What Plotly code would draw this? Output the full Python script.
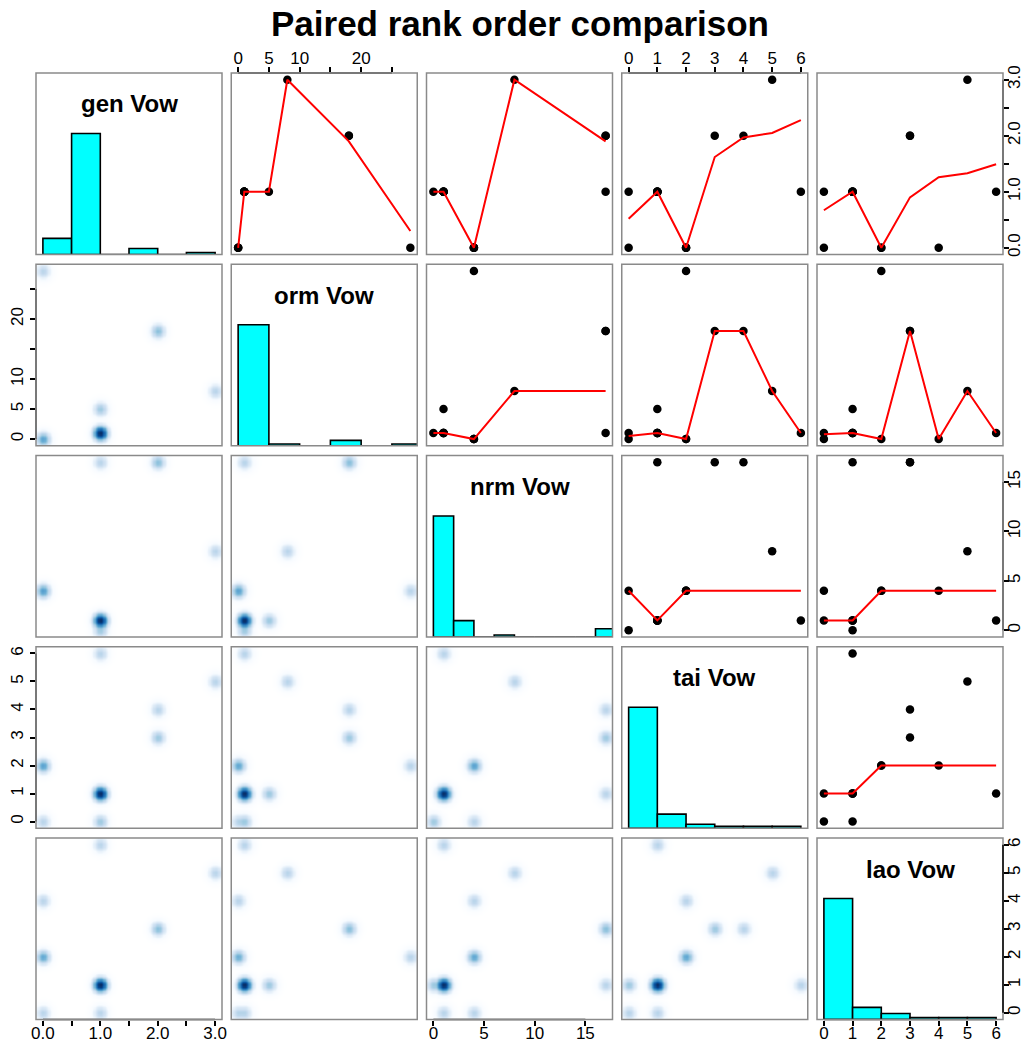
import numpy as np
import plotly.graph_objects as go

# ---------------- data (one row per distinct response profile) ----------------
var_names = ["gen", "orm", "nrm", "tai", "lao"]
var_labels = ["gen Vow", "orm Vow", "nrm Vow", "tai Vow", "lao Vow"]
gen = [1, 1, 1, 1, 1, 1, 1, 0, 0, 0, 0, 2, 2, 3]
orm = [1, 1, 1, 5, 1, 1, 1, 0, 0, 0, 28, 18, 18, 8]
nrm = [1, 0, 17, 1, 1, 1, 1, 4, 4, 4, 4, 17, 17, 8]
tai = [1, 0, 1, 1, 6, 1, 1, 2, 2, 0, 2, 3, 4, 5]
lao = [1, 1, 1, 1, 1, 6, 0, 2, 4, 0, 2, 3, 3, 5]
count = [52, 2, 1, 2, 1, 1, 1, 5, 1, 1, 1, 2, 1, 1]

# histogram break steps (R 'Sturges' breaks)
gen_breaks = [0, 0.5, 1.0, 1.5, 2.0, 2.5, 3.0]
orm_breaks = [0, 5, 10, 15, 20, 25, 30]
nrm_breaks = [0, 2, 4, 6, 8, 10, 12, 14, 16, 18]
tai_breaks = [0, 1, 2, 3, 4, 5, 6]
lao_breaks = [0, 1, 2, 3, 4, 5, 6]

# smoothed (lowess) lines in the upper panels, read at the sorted unique x values
smooth_gen_orm = [0, 1, 1, 3, 1.9, 0.3]
smooth_gen_nrm = [1, 1, 0, 3, 1.9]
smooth_gen_tai = [0.52, 1, 0, 1.62, 1.97, 2.05, 2.28]
smooth_gen_lao = [0.67, 1, 0, 0.9, 1.26, 1.33, 1.49]
smooth_orm_nrm = [1, 1, 0, 8, 8]
smooth_orm_tai = [0.5, 1, 0, 18, 18, 8, 1]
smooth_orm_lao = [0.8, 1, 0, 18, 0, 8, 1]
smooth_nrm_tai = [4, 1, 4, 4, 4, 4, 4]
smooth_nrm_lao = [1, 1, 4, 4, 4, 4, 4]
smooth_tai_lao = [1, 1, 2, 2, 2, 2, 2]

# tick marks / labels
gen_ticks = [0, 0.5, 1, 1.5, 2, 2.5, 3]
gen_ticktext = ["0.0", "", "1.0", "", "2.0", "", "3.0"]
orm_ticks = [0, 5, 10, 15, 20, 25]
orm_ticktext = ["0", "5", "10", "", "20", ""]
nrm_ticks = [0, 5, 10, 15]
nrm_ticktext = ["0", "5", "10", "15"]
tai_ticks = [0, 1, 2, 3, 4, 5, 6]
tai_ticktext = ["0", "1", "2", "3", "4", "5", "6"]
lao_ticks = [0, 1, 2, 3, 4, 5, 6]
lao_ticktext = ["0", "1", "2", "3", "4", "5", "6"]

title = "Paired rank order comparison"

# ---------------- assemble ----------------
data = {"gen": np.array(gen, float), "orm": np.array(orm, float), "nrm": np.array(nrm, float),
        "tai": np.array(tai, float), "lao": np.array(lao, float)}
w = np.array(count, float)
breaks = {"gen": gen_breaks, "orm": orm_breaks, "nrm": nrm_breaks, "tai": tai_breaks, "lao": lao_breaks}
smooth = {(0, 1): smooth_gen_orm, (0, 2): smooth_gen_nrm, (0, 3): smooth_gen_tai, (0, 4): smooth_gen_lao,
          (1, 2): smooth_orm_nrm, (1, 3): smooth_orm_tai, (1, 4): smooth_orm_lao,
          (2, 3): smooth_nrm_tai, (2, 4): smooth_nrm_lao, (3, 4): smooth_tai_lao}
ticks = {"gen": (gen_ticks, gen_ticktext), "orm": (orm_ticks, orm_ticktext), "nrm": (nrm_ticks, nrm_ticktext),
         "tai": (tai_ticks, tai_ticktext), "lao": (lao_ticks, lao_ticktext)}


def ext_range(v):
    lo, hi = float(np.min(v)), float(np.max(v))
    d = (hi - lo) * 0.04
    return [lo - d, hi + d]


ranges = {n: ext_range(data[n]) for n in var_names}

# layout geometry (page pixels; body margin removed below)
W, H = 1026, 1045
PW, PH = 186.0, 181.5
col_left = [36 + 195.25 * j for j in range(5)]
row_top = [73 + 191.25 * i for i in range(5)]


def px_x(X):
    return X / W


def px_y(Y):
    return 1 - Y / H


FONT = "Liberation Sans, Arial, sans-serif"
blues = ["#FFFFFF", "#F7FBFF", "#DEEBF7", "#C6DBEF", "#9ECAE1", "#6BAED6",
         "#4292C6", "#2171B5", "#08519C", "#08306B"]
colorscale = [[i / 9, c] for i, c in enumerate(blues)]

fig = go.Figure()
layout = dict(width=W, height=H, margin=dict(l=0, r=0, t=0, b=0), template="none",
              paper_bgcolor="white", plot_bgcolor="white", showlegend=False)
shapes = []
annotations = []

tickfont = dict(family=FONT, size=17, color="black")
tickstyle = dict(ticks="outside", ticklen=5, tickwidth=1.5, tickcolor="black",
                 showticklabels=True, tickfont=tickfont)
STANDOFF = {"top": -4, "bottom": -7, "left": 0, "right": -9}

for i in range(5):
    for j in range(5):
        k = i * 5 + j + 1
        xn, yn = var_names[j], var_names[i]
        xs = "x" if k == 1 else f"x{k}"
        ys = "y" if k == 1 else f"y{k}"
        xdom = [px_x(col_left[j]), px_x(col_left[j] + PW)]
        ydom = [px_y(row_top[i] + PH), px_y(row_top[i])]
        xa = dict(domain=xdom, range=ranges[xn], anchor=ys, showgrid=False, zeroline=False,
                  showline=False, ticks="", showticklabels=False, automargin=False, fixedrange=True)
        ya = dict(domain=ydom, range=ranges[yn], anchor=xs, showgrid=False, zeroline=False,
                  showline=False, ticks="", showticklabels=False, automargin=False, fixedrange=True)

        if i == j:
            ya["range"] = [0, 1.5]
            v = data[xn]
            b = np.array(breaks[xn], float)
            cnt = []
            for bi in range(len(b) - 1):
                lo, hi = b[bi], b[bi + 1]
                m = (v > lo) & (v <= hi)
                if bi == 0:
                    m = m | (v == lo)
                cnt.append(w[m].sum())
            cnt = np.array(cnt)
            fig.add_trace(go.Bar(x=(b[:-1] + b[1:]) / 2, y=cnt / cnt.max(), width=np.diff(b),
                                 marker=dict(color="#00FFFF", line=dict(color="black", width=1.6)),
                                 xaxis=xs, yaxis=ys, hoverinfo="skip"))
            annotations.append(dict(text=f"<b>{var_labels[i]}</b>", x=px_x(col_left[j] + PW / 2),
                                    y=px_y(row_top[i] + 31), xref="paper", yref="paper",
                                    xanchor="center", yanchor="middle", showarrow=False,
                                    font=dict(family=FONT, size=24, color="black")))
        elif i < j:
            fig.add_trace(go.Scatter(x=data[xn], y=data[yn], mode="markers",
                                     marker=dict(color="black", size=8.5), xaxis=xs, yaxis=ys,
                                     hoverinfo="skip"))
            ux = np.unique(data[xn])
            fig.add_trace(go.Scatter(x=ux, y=smooth[(i, j)], mode="lines",
                                     line=dict(color="#FF0000", width=2), xaxis=xs, yaxis=ys,
                                     hoverinfo="skip"))
        else:
            n = 150
            xr, yr = ranges[xn], ranges[yn]
            gx = np.linspace(xr[0], xr[1], n)
            gy = np.linspace(yr[0], yr[1], n)
            sig = 2.8
            sx = sig * (xr[1] - xr[0]) / PW
            sy = sig * (yr[1] - yr[0]) / PH
            d = np.zeros((n, n))
            for xv, yv, c in zip(data[xn], data[yn], w):
                d += c * np.exp(-0.5 * ((gx[None, :] - xv) / sx) ** 2 - 0.5 * ((gy[:, None] - yv) / sy) ** 2)
            z = (d / d.max()) ** 0.25
            z = np.round(z, 3)
            fig.add_trace(go.Heatmap(x=gx, y=gy, z=z, colorscale=colorscale, zmin=0, zmax=1,
                                     showscale=False, zsmooth="best", xaxis=xs, yaxis=ys,
                                     hoverinfo="skip"))

        # outer axes, as in R's pairs()
        axline = dict(type="line", line=dict(color="black", width=1.5), layer="above")
        if i == 0 and j % 2 == 1:
            tv, tt = ticks[xn]
            xa.update(tickstyle, side="top", tickvals=tv, ticktext=tt, tickangle=0,
                      ticklabelstandoff=STANDOFF["top"])
            shapes.append(dict(axline, xref=xs, yref="paper", x0=tv[0], x1=tv[-1],
                               y0=ydom[1], y1=ydom[1]))
        if i == 4 and j % 2 == 0:
            tv, tt = ticks[xn]
            xa.update(tickstyle, side="bottom", tickvals=tv, ticktext=tt, tickangle=0,
                      ticklabelstandoff=STANDOFF["bottom"])
            shapes.append(dict(axline, xref=xs, yref="paper", x0=tv[0], x1=tv[-1],
                               y0=ydom[0], y1=ydom[0]))
        if j == 0 and i % 2 == 1:
            tv, tt = ticks[yn]
            ya.update(tickstyle, side="left", tickvals=tv, ticktext=tt, tickangle=-90,
                      ticklabelstandoff=STANDOFF["left"])
            shapes.append(dict(axline, xref="paper", yref=ys, x0=xdom[0], x1=xdom[0],
                               y0=tv[0], y1=tv[-1]))
        if j == 4 and i % 2 == 0 and i != j:
            tv, tt = ticks[yn]
            ya.update(tickstyle, side="right", tickvals=tv, ticktext=tt, tickangle=-90,
                      ticklabelstandoff=STANDOFF["right"])
            shapes.append(dict(axline, xref="paper", yref=ys, x0=xdom[1], x1=xdom[1],
                               y0=tv[0], y1=tv[-1]))

        layout["xaxis" if k == 1 else f"xaxis{k}"] = xa
        layout["yaxis" if k == 1 else f"yaxis{k}"] = ya

        # panel box
        shapes.append(dict(type="rect", xref="paper", yref="paper", x0=xdom[0], x1=xdom[1],
                           y0=ydom[0], y1=ydom[1], line=dict(color="#8a8a8a", width=1.5),
                           layer="above"))

# right-hand axis of the last diagonal panel uses the variable's own scale
tv, tt = ticks["lao"]
layout["yaxis26"] = dict(tickstyle, overlaying="y25", anchor="x25", side="right", range=ranges["lao"],
                         showgrid=False, zeroline=False, showline=False, tickvals=tv, ticktext=tt,
                         tickangle=-90, ticklabelstandoff=STANDOFF["right"],
                         automargin=False, fixedrange=True)
fig.add_trace(go.Scatter(x=data["lao"], y=data["lao"], mode="markers", marker=dict(opacity=0),
                         xaxis="x25", yaxis="y26", hoverinfo="skip"))
shapes.append(dict(type="line", line=dict(color="black", width=1.5), layer="above",
                   xref="paper", yref="y26", x0=px_x(col_left[4] + PW), x1=px_x(col_left[4] + PW),
                   y0=tv[0], y1=tv[-1]))

annotations.append(dict(text=f"<b>{title}</b>", x=px_x(519.5), y=px_y(23), xref="paper", yref="paper",
                        xanchor="center", yanchor="middle", showarrow=False,
                        font=dict(family=FONT, size=35, color="black")))

layout["shapes"] = shapes
layout["annotations"] = annotations
fig.update_layout(**layout)
fig.write_html("out.html", config={"displayModeBar": False},
               post_script="document.body.style.margin='0px';document.body.style.overflow='hidden';")
